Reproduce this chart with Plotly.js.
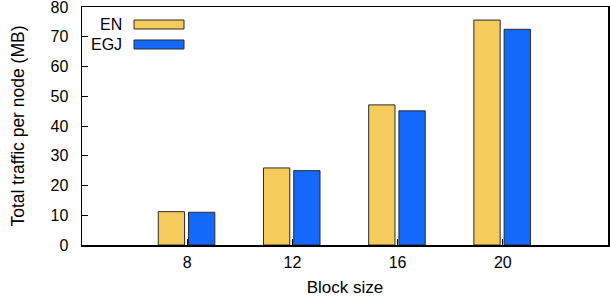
<!DOCTYPE html>
<html><head><meta charset="utf-8">
<script src="https://cdn.plot.ly/plotly-3.0.1.min.js"></script>
<style>html,body{margin:0;padding:0;background:#fff}#c{width:610px;height:305px}</style>
</head><body><div id="c"></div>
<script>
var blockSizes = [8, 12, 16, 20];
var enValues = [11.2, 25.9, 47.1, 75.6];
var egjValues = [11.0, 25.0, 45.1, 72.5];
var seriesNames = ['EN', 'EGJ'];
var seriesColors = ['#F5CB5C', '#1469FE'];
var yTickVals = [0, 10, 20, 30, 40, 50, 60, 70, 80];

var font = 'Liberation Sans, Arial, Helvetica, sans-serif';
var traces = [
  {type:'bar', x:blockSizes, y:enValues, name:seriesNames[0], width:1, offset:-1.1,
   marker:{color:seriesColors[0], line:{color:'#2a2a2a', width:1}}, showlegend:false},
  {type:'bar', x:blockSizes, y:egjValues, name:seriesNames[1], width:1, offset:0.05,
   marker:{color:seriesColors[1], line:{color:'#2a2a2a', width:1}}, showlegend:false}
];
var layout = {
  width:610, height:305,
  margin:{l:82, r:2, t:7, b:60},
  paper_bgcolor:'#fff', plot_bgcolor:'#fff',
  font:{family:font, size:16, color:'#000'},
  barmode:'overlay',
  xaxis:{range:[4,24], tickvals:blockSizes, ticktext:blockSizes.map(String),
    ticks:'inside', ticklen:6, tickcolor:'#000', showgrid:false, zeroline:false,
    showline:true, linecolor:'#000', linewidth:1.5, mirror:true, ticklabelstandoff:2,
    title:{text:'Block size', font:{size:17}, standoff:11}, tickfont:{size:16}},
  yaxis:{range:[0,80], tickvals:yTickVals, ticktext:yTickVals.map(String),
    ticks:'inside', ticklen:6, tickcolor:'#000', automargin:false,
    showgrid:false, zeroline:false, showline:true, linecolor:'#000', linewidth:1.5, mirror:true,
    ticklabelstandoff:9, ticklabeloverflow:'allow',
    title:{text:'Total traffic per node (MB)', font:{size:17.5}, standoff:21}, tickfont:{size:16}},
  shapes:[
    {type:'rect', xref:'paper', yref:'paper', x0:(134-82)/526, x1:(184-82)/526,
     y0:(245-29)/238, y1:(245-20)/238, fillcolor:seriesColors[0], line:{color:'#2a2a2a', width:1}},
    {type:'rect', xref:'paper', yref:'paper', x0:(134-82)/526, x1:(184-82)/526,
     y0:(245-49)/238, y1:(245-40)/238, fillcolor:seriesColors[1], line:{color:'#2a2a2a', width:1}}
  ],
  annotations:[
    {xref:'paper', yref:'paper', x:(124-82)/526, y:(245-24.5)/238, text:seriesNames[0],
     showarrow:false, xanchor:'right', yanchor:'middle', font:{size:16}},
    {xref:'paper', yref:'paper', x:(124-82)/526, y:(245-44.5)/238, text:seriesNames[1],
     showarrow:false, xanchor:'right', yanchor:'middle', font:{size:16}}
  ]
};
Plotly.newPlot('c', traces, layout, {displayModeBar:false, staticPlot:true});
</script></body></html>
